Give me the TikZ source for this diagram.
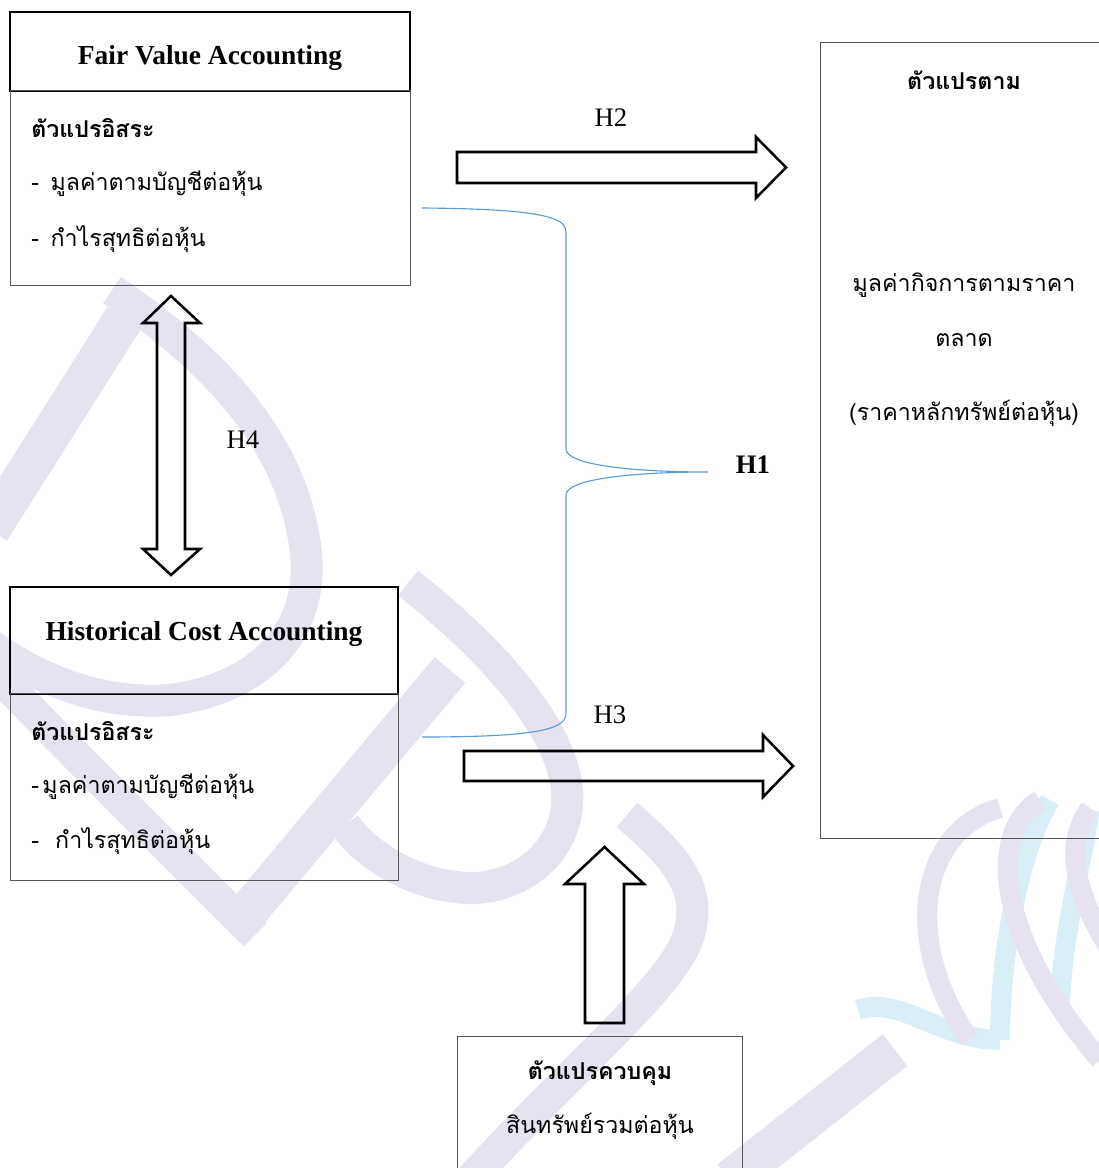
\documentclass[tikz,border=0pt]{standalone}
\usepackage{fontspec}
\setmainfont{Liberation Serif}
\newfontfamily\thai[Script=Thai]{Loma}
\usetikzlibrary{positioning}
\definecolor{wmlav}{HTML}{E7E2F0}
\definecolor{wmcyan}{HTML}{D9EEF7}
\definecolor{bracecol}{HTML}{5B9BD5}
\definecolor{framecol}{HTML}{555555}
\tikzset{
  headbox/.style={draw=black, line width=1.6pt, inner sep=0pt, font=\fontsize{19.5}{23}\selectfont\bfseries},
  bodybox/.style={draw=framecol, line width=0.7pt, inner sep=0pt},
  thtxt/.style={font=\thai\fontsize{16.5}{19}\selectfont, inner sep=0pt},
  thbold/.style={font=\thai\bfseries\fontsize{16.5}{19}\selectfont, inner sep=0pt},
  hlab/.style={font=\fontsize{19}{22}\selectfont, inner sep=0pt},
  blockarrow/.style={draw=black, line width=1.8pt, line join=miter},
  bracket/.style={draw=bracecol, line width=0.8pt},
  wmark/.style={draw=wmlav, line width=0.8cm},
  ribbon/.style={draw=wmlav, line width=0.5cm},
}

\begin{document}
\begin{tikzpicture}[x=0.025cm, y=-0.025cm]
  \useasboundingbox (0,0) rectangle (1098,1168);
  % watermark in the background
  \draw[wmark, line width=1cm] (-10,530) -- (128,312);
  \draw[wmark] (112,290) .. controls (215,360) and (290,440) .. (305,545)
    .. controls (318,640) and (250,690) .. (170,700) .. controls (100,705) and (40,680) .. (-10,645);
  \draw[wmark] (-10,668) .. controls (80,760) .. (255,935);
  \draw[wmark, line width=1cm] (245,915) -- (450,670);
  \draw[wmark] (408,583) .. controls (480,640) and (560,720) .. (567,790)
    .. controls (572,850) and (520,890) .. (467,888) .. controls (420,886) and (370,860) .. (345,825);
  \draw[wmark] (627,815) .. controls (680,860) and (700,890) .. (690,930)
    .. controls (680,980) and (580,1060) .. (470,1180);
  \draw[wmark, line width=1cm] (895,1050) -- (730,1180);
  \draw[ribbon, wmcyan] (1050,800) .. controls (1020,850) and (1000,950) .. (1000,1040);
  \draw[ribbon, wmcyan] (858,1010) .. controls (900,995) and (940,1040) .. (1000,1040);
  \draw[ribbon, wmcyan] (1090,810) .. controls (1080,870) and (1060,950) .. (1060,1010);
  \draw[ribbon] (1000,808) .. controls (920,830) and (900,940) .. (970,1040);
  \draw[ribbon] (1040,800) .. controls (990,830) and (990,930) .. (1100,1060);
  \draw[ribbon] (1090,808) .. controls (1060,850) and (1080,900) .. (1110,950);

  % boxes
  \node[headbox, minimum width=10cm, minimum height=1.975cm, text height=0.8cm] (fvhead) at (210,51.5) {Fair Value Accounting};
  \node[bodybox, minimum width=9.975cm, minimum height=4.85cm] (fvbody) at (210.5,188) {};
  \node[headbox, minimum width=9.7cm, minimum height=2.675cm, text depth=0.5cm] (hchead) at (204,640.5) {Historical Cost Accounting};
  \node[bodybox, minimum width=9.675cm, minimum height=4.65cm] (hcbody) at (204.5,787) {};
  \node[bodybox, minimum width=7.225cm, minimum height=19.875cm] (dvbox) at (965.5,440.5) {};
  \node[bodybox, minimum width=7.1cm, minimum height=3.85cm] (cvbox) at (600,1113) {};

  % texts in the boxes
  \node[thbold, anchor=west] (fvvar) at (31,128) {ตัวแปรอิสระ};
  \node[thtxt, anchor=west] (fvbv) at (31,184) {-\hspace{0.5em}มูลค่าตามบัญชีต่อหุ้น};
  \node[thtxt, anchor=west] (fveps) at (31,239) {-\hspace{0.5em}กำไรสุทธิต่อหุ้น};
  \node[thbold, anchor=west] (hcvar) at (31,731) {ตัวแปรอิสระ};
  \node[thtxt, anchor=west] (hcbv) at (31,787) {-\hspace{0.15em}มูลค่าตามบัญชีต่อหุ้น};
  \node[thtxt, anchor=west] (hceps) at (31,841) {-\hspace{0.7em}กำไรสุทธิต่อหุ้น};
  \node[thbold] (dvtitle) at (964,80) {ตัวแปรตาม};
  \node[thtxt] (dvmv) at (964,285) {มูลค่ากิจการตามราคา};
  \node[thtxt] (dvmv2) at (964,340) {ตลาด};
  \node[thtxt] (dvprice) at (964,413) {(ราคาหลักทรัพย์ต่อหุ้น)};
  \node[thbold] (cvtitle) at (600,1073) {ตัวแปรควบคุม};
  \node[thtxt] (cvta) at (600,1126) {สินทรัพย์รวมต่อหุ้น};

  % hypothesis labels
  \node[hlab] (h2) at (611,118) {H2};
  \node[hlab] (h3) at (610,715) {H3};
  \node[hlab] (h4) at (243,440) {H4};
  \node[hlab, font=\fontsize{19}{22}\selectfont\bfseries] (h1) at (753,465) {H1};

  % block arrows
  \coordinate (h2tail) at (457,167.5);
  \coordinate (h3tail) at (464,766);
  \coordinate (cvtail) at (604.5,1023);
  \coordinate (h4top) at (171,296);
  \draw[blockarrow] (h2tail) ++(0,-15.5) -- ++(299,0) -- ++(0,-15) -- ++(30,30.5)
    -- ++(-30,30.5) -- ++(0,-15) -- ++(-299,0) -- cycle;
  \draw[blockarrow] (h3tail) ++(0,-15) -- ++(299,0) -- ++(0,-16) -- ++(30,31)
    -- ++(-30,31) -- ++(0,-16) -- ++(-299,0) -- cycle;
  \draw[blockarrow] (cvtail) ++(-19.5,0) -- ++(0,-139) -- ++(-20,0) -- ++(39.5,-37)
    -- ++(39.5,37) -- ++(-20,0) -- ++(0,139) -- cycle;
  \draw[blockarrow] (h4top) -- ++(29,27) -- ++(-15,0) -- ++(0,226) -- ++(15,0)
    -- ++(-29,26) -- ++(-28,-26) -- ++(14,0) -- ++(0,-226) -- ++(-14,0) -- cycle;

  % bracket to H1
  \coordinate (bup) at (422,208);
  \coordinate (blow) at (422,737);
  \coordinate (btip) at (708,472);
  \draw[bracket] (bup) .. controls (545,209) and (566,218) .. (566,232) -- (566,449)
    .. controls (566,466) and (640,472) .. (btip)
    .. controls (640,472) and (566,478) .. (566,495) -- (566,713)
    .. controls (566,728) and (545,737) .. (blow);
\end{tikzpicture}
\end{document}
